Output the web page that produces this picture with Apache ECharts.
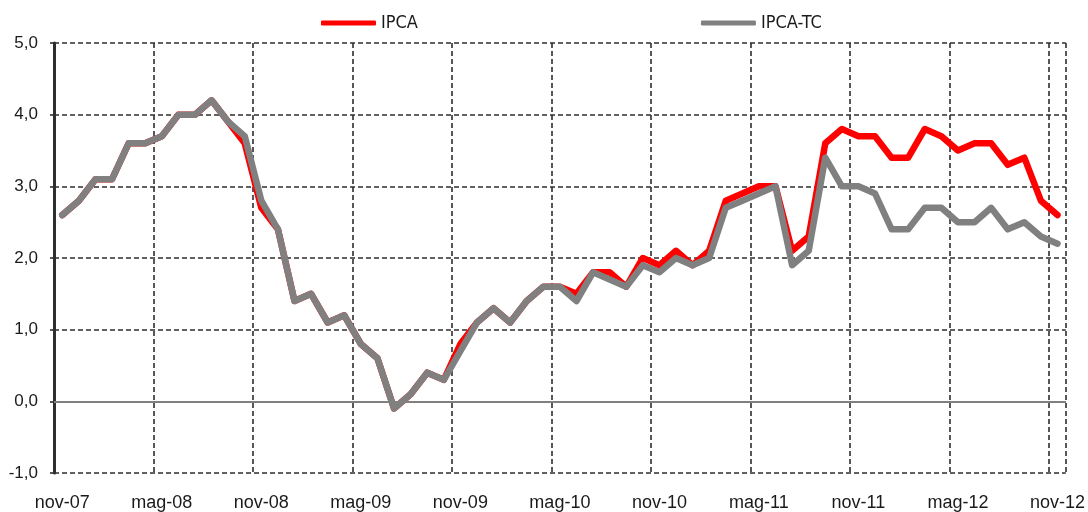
<!DOCTYPE html>
<html>
<head>
<meta charset="utf-8">
<script src="https://cdn.jsdelivr.net/npm/echarts@6/dist/echarts.min.js"></script>
<style>
  html, body { margin: 0; padding: 0; background: #fff; }
  #chart { width: 1088px; height: 512px; }
</style>
</head>
<body>
<div id="chart"></div>
<script>
"use strict";

/* ---------- dati ---------- */
const MONTHS = ["gen", "feb", "mar", "apr", "mag", "giu", "lug", "ago", "set", "ott", "nov", "dic"];

// nov-07 ... nov-12, mensile
const categories = [];
for (let i = 0; i < 61; i++) {
  const m = (10 + i) % 12;
  const y = 7 + Math.floor((10 + i) / 12);
  categories.push(MONTHS[m] + "-" + String(y).padStart(2, "0"));
}

const ipca = [
  2.6, 2.8, 3.1, 3.1, 3.6, 3.6, 3.7, 4.0, 4.0, 4.2, 3.9,
  3.6, 2.7, 2.4, 1.4, 1.5, 1.1, 1.2, 0.8, 0.6, -0.1, 0.1,
  0.4, 0.3, 0.8, 1.1, 1.3, 1.1, 1.4, 1.6, 1.6, 1.5, 1.8,
  1.8, 1.6, 2.0, 1.9, 2.1, 1.9, 2.1, 2.8, 2.9, 3.0, 3.0,
  2.1, 2.3, 3.6, 3.8, 3.7, 3.7, 3.4, 3.4, 3.8, 3.7, 3.5,
  3.6, 3.6, 3.3, 3.4, 2.8, 2.6
];

const ipcaTc = [
  2.6, 2.8, 3.1, 3.1, 3.6, 3.6, 3.7, 4.0, 4.0, 4.2, 3.9,
  3.7, 2.8, 2.4, 1.4, 1.5, 1.1, 1.2, 0.8, 0.6, -0.1, 0.1,
  0.4, 0.3, 0.7, 1.1, 1.3, 1.1, 1.4, 1.6, 1.6, 1.4, 1.8,
  1.7, 1.6, 1.9, 1.8, 2.0, 1.9, 2.0, 2.7, 2.8, 2.9, 3.0,
  1.9, 2.1, 3.4, 3.0, 3.0, 2.9, 2.4, 2.4, 2.7, 2.7, 2.5,
  2.5, 2.7, 2.4, 2.5, 2.3, 2.2
];

const yTicks = { min: -1, max: 5, step: 1 };

/* ---------- grafico ---------- */
const chart = echarts.init(document.getElementById("chart"), null, { renderer: "canvas" });

const gridDash = { color: "#2e2e2e", width: 1.6, type: [5, 3] };

chart.setOption({
  backgroundColor: "#ffffff",
  animation: false,
  textStyle: { fontFamily: "Liberation Sans, Arial, sans-serif", color: "#1a1a1a" },
  legend: {
    left: 316, top: 9, padding: [5, 0, 5, 5],
    itemWidth: 55, itemHeight: 5, itemGap: 283,
    icon: "roundRect",
    textStyle: { fontSize: 18, color: "#1a1a1a",
      fontFamily: "Liberation Sans Narrow, Arial Narrow, DejaVu Sans Condensed, sans-serif" },
    data: [
      { name: "IPCA", itemStyle: { color: "#ff0000" } },
      { name: "IPCA-TC", itemStyle: { color: "#808080" } }
    ]
  },
  grid: { left: 54, right: 22, top: 43, bottom: 37 },
  xAxis: {
    type: "category",
    data: categories,
    boundaryGap: true,
    axisLine: { show: false },
    axisTick: { show: false },
    axisLabel: { interval: 5, fontSize: 18, color: "#1a1a1a", margin: 21 },
    splitLine: { show: true, interval: 5, lineStyle: gridDash }
  },
  yAxis: {
    type: "value",
    min: yTicks.min, max: yTicks.max, interval: yTicks.step,
    axisLine: { show: true, lineStyle: { color: "#2e2e2e", width: 3 } },
    axisTick: { show: true, length: 4, lineStyle: { color: "#2e2e2e", width: 1.6 } },
    axisLabel: { fontSize: 17, color: "#1a1a1a", margin: 16,
      formatter: v => v.toFixed(1).replace(".", ",") },
    splitLine: { show: true, lineStyle: gridDash }
  },
  series: [
    {
      name: "IPCA", type: "line", data: ipca,
      symbol: "none", z: 3,
      lineStyle: { color: "#ff0000", width: 6.5, join: "round", cap: "round" },
      itemStyle: { color: "#ff0000" },
      markLine: {
        silent: true, symbol: "none", label: { show: false },
        lineStyle: { color: "#808080", width: 2, type: "solid" },
        data: [{ yAxis: 0 }]
      }
    },
    {
      name: "IPCA-TC", type: "line", data: ipcaTc,
      symbol: "none", z: 4,
      lineStyle: { color: "#808080", width: 6.5, join: "round", cap: "round" },
      itemStyle: { color: "#808080" }
    }
  ]
});
</script>
</body>
</html>
